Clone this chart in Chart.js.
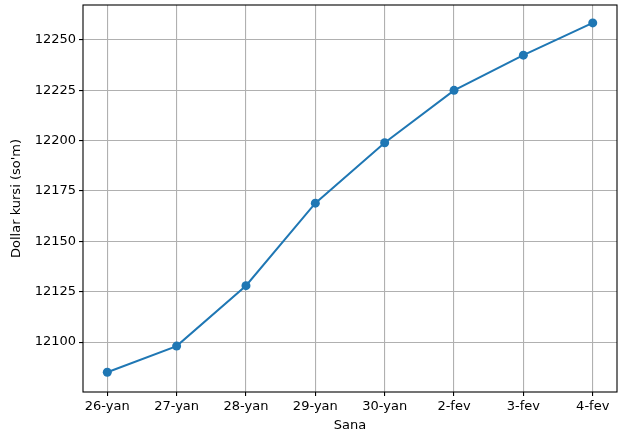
<!DOCTYPE html>
<html>
<head>
<meta charset="utf-8">
<script src="https://cdn.jsdelivr.net/npm/chart.js@4/dist/chart.umd.min.js"></script>
<style>
html,body{margin:0;padding:0;background:#fff;}
#wrap{width:629px;height:443px;}
</style>
</head>
<body>
<div id="wrap"><canvas id="c" width="629" height="443"></canvas></div>
<script>
const categories = ["26-yan","27-yan","28-yan","29-yan","30-yan","2-fev","3-fev","4-fev"];
const rates = [12085, 12098, 12128, 12169, 12199, 12225, 12242.5, 12258.5];
const yTicks = [12100, 12125, 12150, 12175, 12200, 12225, 12250];
const xLabel = "Sana";
const yLabel = "Dollar kursi (so'm)";

const FONT = "'DejaVu Sans', sans-serif";
const points = rates.map((v,i)=>({x:i,y:v}));

const frame = {
  id:'frame',
  afterDatasetsDraw(chart){
    const {ctx, chartArea:a} = chart;
    ctx.save();
    ctx.strokeStyle='#000';
    ctx.lineWidth=1.1;
    ctx.strokeRect(a.left, a.top, a.right-a.left, a.bottom-a.top);
    ctx.restore();
  }
};

new Chart(document.getElementById('c'), {
  type:'line',
  data:{datasets:[{
    data:points,
    borderColor:'#1f77b4',
    backgroundColor:'#1f77b4',
    borderWidth:2,
    pointRadius:4.5,
    pointHoverRadius:4.5,
    pointBorderWidth:0,
    tension:0
  }]},
  options:{
    responsive:false,
    animation:false,
    events:[],
    layout:{padding:{top:5,right:12,left:0,bottom:0}},
    plugins:{legend:{display:false},tooltip:{enabled:false}},
    scales:{
      x:{
        type:'linear',
        min:-0.35, max:7.35,
        afterBuildTicks(s){ s.ticks = categories.map((c,i)=>({value:i})); },
        afterFit(s){ s.height = 51; s.paddingLeft = 0; s.paddingRight = 0; },
        ticks:{
          autoSkip:false, maxRotation:0,
          callback:(v)=>categories[v],
          color:'#000', font:{family:FONT,size:13}, padding:3
        },
        grid:{color:'#b0b0b0', lineWidth:1.1, tickColor:'#000', tickLength:4, drawOnChartArea:true},
        border:{display:false},
        title:{display:true, text:xLabel, color:'#000', font:{family:FONT,size:13}, padding:{top:2,bottom:10}}
      },
      y:{
        type:'linear',
        min:12075.2, max:12267.4,
        afterBuildTicks(s){ s.ticks = yTicks.map(v=>({value:v})); },
        afterFit(s){ s.width = 83; s.paddingTop = 0; s.paddingBottom = 0; },
        ticks:{color:'#000', font:{family:FONT,size:13}, padding:3, callback:(v)=>String(v)},
        grid:{color:'#b0b0b0', lineWidth:1.1, tickColor:'#000', tickLength:4},
        border:{display:false},
        title:{display:true, text:yLabel, color:'#000', font:{family:FONT,size:13}, padding:{top:9,bottom:0}}
      }
    }
  },
  plugins:[frame]
});
</script>
</body>
</html>
